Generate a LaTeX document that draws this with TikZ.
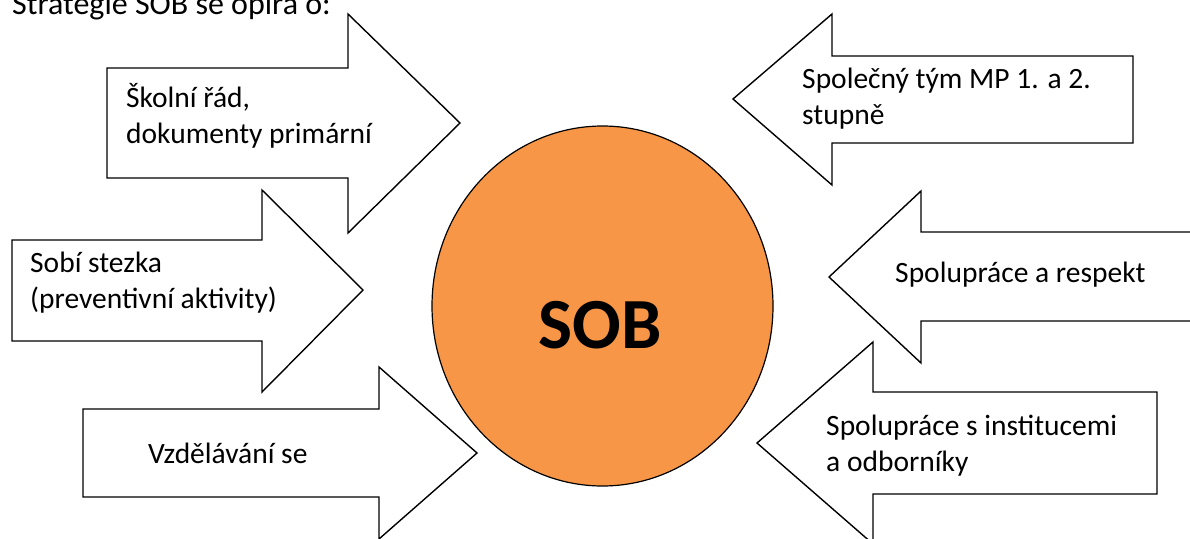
\documentclass[tikz,border=0pt]{standalone}
\usepackage{fontspec}
\setmainfont{Carlito}
\usetikzlibrary{shapes.geometric}
\definecolor{soborange}{HTML}{F79646}
\tikzset{
  blockarrow/.style={draw=black, line width=1.4pt, fill=white, line join=miter},
  lbl/.style={anchor=base west, inner sep=0pt, align=left, font=\fontsize{29.5}{36}\selectfont},
}
\begin{document}
\begin{tikzpicture}[x=1pt, y=-1pt]
\useasboundingbox (0,0) rectangle (1190,538);
\clip (0,0) rectangle (1190,538);
% title
\node[lbl, font=\fontsize{32}{38}\selectfont] (title) at (12,14) {Strategie SOB se opírá o:};
% left arrows (pointing right)
\draw[blockarrow] (107,68) -- (348,68) -- (348,14) -- (460,123) -- (348,233) -- (348,178) -- (107,178) -- cycle;
\draw[blockarrow] (12,240) -- (262,240) -- (262,190) -- (363,290) -- (262,392) -- (262,341) -- (12,341) -- cycle;
\draw[blockarrow] (83,409) -- (379,409) -- (379,367) -- (477,453) -- (379,539) -- (379,497) -- (83,497) -- cycle;
% right arrows (pointing left)
\draw[blockarrow] (1133,56) -- (832,56) -- (832,14) -- (733,99) -- (832,185) -- (832,143) -- (1133,143) -- cycle;
\draw[blockarrow] (1200,232) -- (921,232) -- (921,191) -- (829,277) -- (921,363) -- (921,321) -- (1200,321);
\draw[blockarrow] (1157,392) -- (873,392) -- (873,342) -- (757,443) -- (873,544) -- (873,494) -- (1157,494) -- cycle;
% centre circle
\node[ellipse, draw=black, line width=1.2pt, fill=soborange, inner sep=0pt,
      minimum width=341pt, minimum height=360pt] (sob) at (602.5,306) {};
\node[anchor=base, inner sep=0pt, font=\fontsize{72}{86}\selectfont\bfseries] (sobtext) at (600,348) {SOB};
% labels (multi-line: base = last line)
\node[lbl] (t1) at (126,143) {Školní řád,\\dokumenty primární};
\node[lbl] (t2) at (30,308) {Sobí stezka\\(preventivní aktivity)};
\node[lbl] (t3) at (148,463) {Vzdělávání se};
\node[lbl] (t4) at (802,124) {Společný tým MP 1. a 2.\\stupně};
\node[lbl] (t5) at (895,282) {Spolupráce a respekt};
\node[lbl] (t6) at (826,471) {Spolupráce s institucemi\\a odborníky};
\end{tikzpicture}
\end{document}
